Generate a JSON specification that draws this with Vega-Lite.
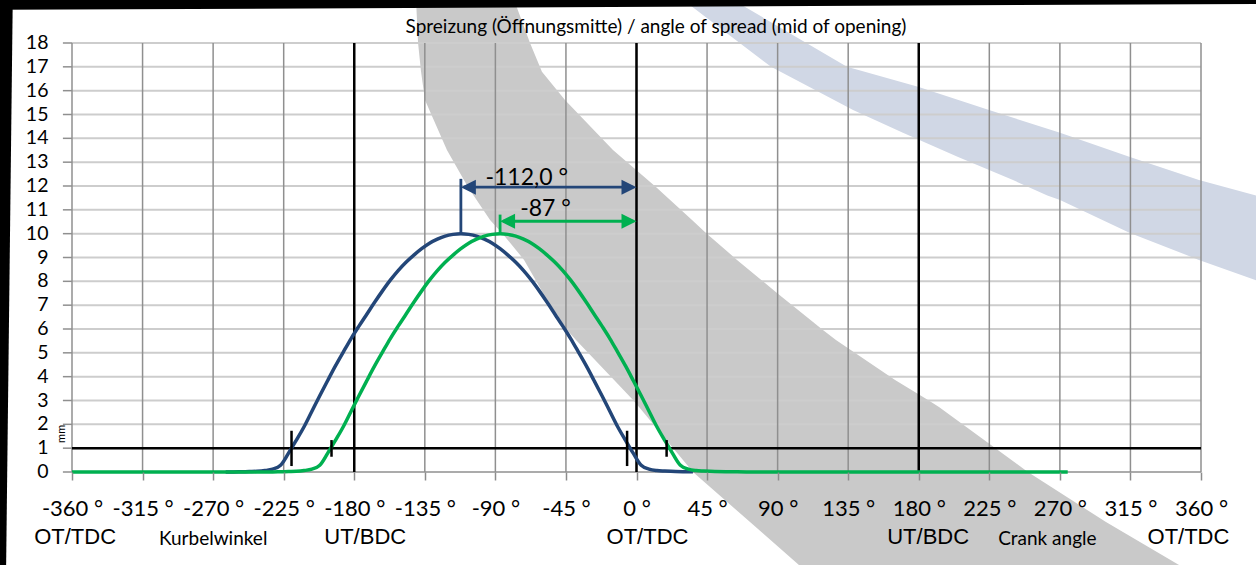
{
  "$schema": "https://vega.github.io/schema/vega-lite/v6.json",
  "width": 1129,
  "height": 429,
  "autosize": {"type": "none"},
  "padding": {"left": 72, "top": 43, "right": 55, "bottom": 93},
  "background": "white",
  "config": {"font": "Lato", "view": {"stroke": null}},
  "datasets": {
    "grayband": [
      {"y": 21, "x": -141, "x2": -80},
      {"y": 19.81, "x": -140.6, "x2": -78.1},
      {"y": 18.0, "x": -139.3, "x2": -67.9},
      {"y": 16.79, "x": -137.4, "x2": -60.3},
      {"y": 15.61, "x": -134.9, "x2": -45.6},
      {"y": 13.51, "x": -120.9, "x2": -15.0},
      {"y": 11.96, "x": -107.5, "x2": 12.4},
      {"y": 10.57, "x": -93.4, "x2": 35.4},
      {"y": 10.03, "x": -85.8, "x2": 44.3},
      {"y": 8.9, "x": -71.7, "x2": 64.1},
      {"y": 7.51, "x": -59.6, "x2": 89.6},
      {"y": 5.96, "x": -44.3, "x2": 118.9},
      {"y": 5.54, "x": -38.6, "x2": 127.2},
      {"y": 3.86, "x": -14.3, "x2": 164.9},
      {"y": 3.02, "x": -2.2, "x2": 185.9},
      {"y": 2.73, "x": 1.6, "x2": 192.9},
      {"y": 0, "x": 36.0, "x2": 249.6},
      {"y": -2.1, "x": 72.4, "x2": 299.4},
      {"y": -3.9, "x": 103.6, "x2": 346},
      {"y": -4.5, "x": 114, "x2": 362}
    ],
    "blueband": [
      {"y": 19.81, "x": 29.7, "x2": 61.5},
      {"y": 17.0, "x": 85.8, "x2": 134.2},
      {"y": 16.16, "x": 110.0, "x2": 179.5},
      {"y": 15.19, "x": 138.1, "x2": 224.8},
      {"y": 14.23, "x": 169.9, "x2": 270.1},
      {"y": 13.22, "x": 205.1, "x2": 314.7},
      {"y": 12.25, "x": 240.1, "x2": 358.7},
      {"y": 11.6, "x": 262, "x2": 395.1},
      {"y": 11.41, "x": 270.1, "x2": 423},
      {"y": 10.03, "x": 314.7, "x2": 423},
      {"y": 8.9, "x": 358.7, "x2": 423},
      {"y": 8.05, "x": 395.1, "x2": 423}
    ],
    "topstrip": [
      {"x": -420, "y": 19.39, "y2": 22},
      {"x": -406, "y": 19.39, "y2": 22},
      {"x": 395, "y": 19.64, "y2": 22},
      {"x": 420, "y": 19.64, "y2": 22}
    ],
    "leftstrip": [
      {"y": 22, "x": -420, "x2": -397.4},
      {"y": -5, "x": -420, "x2": -402.2}
    ],
    "gridx": [
      {"x": -360}, {"x": -315}, {"x": -270}, {"x": -225}, {"x": -180}, {"x": -135},
      {"x": -90}, {"x": -45}, {"x": 0}, {"x": 45}, {"x": 90}, {"x": 135},
      {"x": 180}, {"x": 225}, {"x": 270}, {"x": 315}, {"x": 360}
    ],
    "gridy": [
      {"y": 1}, {"y": 2}, {"y": 3}, {"y": 4}, {"y": 5}, {"y": 6}, {"y": 7}, {"y": 8}, {"y": 9},
      {"y": 10}, {"y": 11}, {"y": 12}, {"y": 13}, {"y": 14}, {"y": 15}, {"y": 16}, {"y": 17}, {"y": 18}
    ],
    "yticks": [
      {"y": 0}, {"y": 1}, {"y": 2}, {"y": 3}, {"y": 4}, {"y": 5}, {"y": 6}, {"y": 7}, {"y": 8}, {"y": 9},
      {"y": 10}, {"y": 11}, {"y": 12}, {"y": 13}, {"y": 14}, {"y": 15}, {"y": 16}, {"y": 17}, {"y": 18}
    ],
    "baseline": [{"y": 0}],
    "blackv": [{"x": -180}, {"x": 0}, {"x": 180}],
    "blackh": [{"y": 1}],
    "curves": [
      {"c": "b", "x": -262, "y": 0}, {"c": "b", "x": -257, "y": 0}, {"c": "b", "x": -252, "y": 0.01},
      {"c": "b", "x": -247, "y": 0.02}, {"c": "b", "x": -242, "y": 0.03}, {"c": "b", "x": -237, "y": 0.06},
      {"c": "b", "x": -232, "y": 0.12}, {"c": "b", "x": -227, "y": 0.28}, {"c": "b", "x": -222, "y": 0.78},
      {"c": "b", "x": -217, "y": 1.33}, {"c": "b", "x": -212, "y": 1.9}, {"c": "b", "x": -207, "y": 2.55},
      {"c": "b", "x": -202, "y": 3.2}, {"c": "b", "x": -197, "y": 3.83}, {"c": "b", "x": -192, "y": 4.45},
      {"c": "b", "x": -187, "y": 5.03}, {"c": "b", "x": -182, "y": 5.6}, {"c": "b", "x": -177, "y": 6.12},
      {"c": "b", "x": -172, "y": 6.62}, {"c": "b", "x": -167, "y": 7.12}, {"c": "b", "x": -162, "y": 7.6},
      {"c": "b", "x": -157, "y": 8.05}, {"c": "b", "x": -152, "y": 8.45}, {"c": "b", "x": -147, "y": 8.8},
      {"c": "b", "x": -142, "y": 9.1}, {"c": "b", "x": -137, "y": 9.37}, {"c": "b", "x": -132, "y": 9.6},
      {"c": "b", "x": -127, "y": 9.77}, {"c": "b", "x": -122, "y": 9.9}, {"c": "b", "x": -117, "y": 9.97},
      {"c": "b", "x": -112, "y": 10}, {"c": "b", "x": -107, "y": 9.97}, {"c": "b", "x": -102, "y": 9.9},
      {"c": "b", "x": -97, "y": 9.77}, {"c": "b", "x": -92, "y": 9.6}, {"c": "b", "x": -87, "y": 9.37},
      {"c": "b", "x": -82, "y": 9.1}, {"c": "b", "x": -77, "y": 8.8}, {"c": "b", "x": -72, "y": 8.45},
      {"c": "b", "x": -67, "y": 8.05}, {"c": "b", "x": -62, "y": 7.6}, {"c": "b", "x": -57, "y": 7.12},
      {"c": "b", "x": -52, "y": 6.62}, {"c": "b", "x": -47, "y": 6.12}, {"c": "b", "x": -42, "y": 5.6},
      {"c": "b", "x": -37, "y": 5.03}, {"c": "b", "x": -32, "y": 4.45}, {"c": "b", "x": -27, "y": 3.83},
      {"c": "b", "x": -22, "y": 3.2}, {"c": "b", "x": -17, "y": 2.55}, {"c": "b", "x": -12, "y": 1.9},
      {"c": "b", "x": -7, "y": 1.33}, {"c": "b", "x": -2, "y": 0.78}, {"c": "b", "x": 3, "y": 0.28},
      {"c": "b", "x": 8, "y": 0.12}, {"c": "b", "x": 13, "y": 0.06}, {"c": "b", "x": 18, "y": 0.04},
      {"c": "b", "x": 25, "y": 0.02}, {"c": "b", "x": 36, "y": 0.01},
      {"c": "g", "x": -360, "y": 0}, {"c": "g", "x": -250, "y": 0}, {"c": "g", "x": -232, "y": 0},
      {"c": "g", "x": -227, "y": 0.01}, {"c": "g", "x": -222, "y": 0.02}, {"c": "g", "x": -217, "y": 0.03},
      {"c": "g", "x": -212, "y": 0.06}, {"c": "g", "x": -207, "y": 0.12}, {"c": "g", "x": -202, "y": 0.28},
      {"c": "g", "x": -197, "y": 0.78}, {"c": "g", "x": -192, "y": 1.33}, {"c": "g", "x": -187, "y": 1.9},
      {"c": "g", "x": -182, "y": 2.55}, {"c": "g", "x": -177, "y": 3.2}, {"c": "g", "x": -172, "y": 3.83},
      {"c": "g", "x": -167, "y": 4.45}, {"c": "g", "x": -162, "y": 5.03}, {"c": "g", "x": -157, "y": 5.6},
      {"c": "g", "x": -152, "y": 6.12}, {"c": "g", "x": -147, "y": 6.62}, {"c": "g", "x": -142, "y": 7.12},
      {"c": "g", "x": -137, "y": 7.6}, {"c": "g", "x": -132, "y": 8.05}, {"c": "g", "x": -127, "y": 8.45},
      {"c": "g", "x": -122, "y": 8.8}, {"c": "g", "x": -117, "y": 9.1}, {"c": "g", "x": -112, "y": 9.37},
      {"c": "g", "x": -107, "y": 9.6}, {"c": "g", "x": -102, "y": 9.77}, {"c": "g", "x": -97, "y": 9.9},
      {"c": "g", "x": -92, "y": 9.97}, {"c": "g", "x": -87, "y": 10}, {"c": "g", "x": -82, "y": 9.97},
      {"c": "g", "x": -77, "y": 9.9}, {"c": "g", "x": -72, "y": 9.77}, {"c": "g", "x": -67, "y": 9.6},
      {"c": "g", "x": -62, "y": 9.37}, {"c": "g", "x": -57, "y": 9.1}, {"c": "g", "x": -52, "y": 8.8},
      {"c": "g", "x": -47, "y": 8.45}, {"c": "g", "x": -42, "y": 8.05}, {"c": "g", "x": -37, "y": 7.6},
      {"c": "g", "x": -32, "y": 7.12}, {"c": "g", "x": -27, "y": 6.62}, {"c": "g", "x": -22, "y": 6.12},
      {"c": "g", "x": -17, "y": 5.6}, {"c": "g", "x": -12, "y": 5.03}, {"c": "g", "x": -7, "y": 4.45},
      {"c": "g", "x": -2, "y": 3.83}, {"c": "g", "x": 3, "y": 3.2}, {"c": "g", "x": 8, "y": 2.55},
      {"c": "g", "x": 13, "y": 1.9}, {"c": "g", "x": 18, "y": 1.33}, {"c": "g", "x": 23, "y": 0.78},
      {"c": "g", "x": 28, "y": 0.28}, {"c": "g", "x": 33, "y": 0.12}, {"c": "g", "x": 38, "y": 0.06},
      {"c": "g", "x": 43, "y": 0.04}, {"c": "g", "x": 50, "y": 0.02}, {"c": "g", "x": 61, "y": 0.01},
      {"c": "g", "x": 70, "y": 0}, {"c": "g", "x": 275, "y": 0}
    ],
    "marks1mm": [
      {"x": -220, "y": 0.25, "y2": 1.73},
      {"x": -6, "y": 0.25, "y2": 1.73},
      {"x": -194.5, "y": 0.64, "y2": 1.34},
      {"x": 19.2, "y": 0.64, "y2": 1.34}
    ],
    "spreadlines": [
      {"c": "b", "x": -112, "x2": -112, "y": 10, "y2": 12.3},
      {"c": "b", "x": -110, "x2": -2, "y": 11.95, "y2": 11.95},
      {"c": "g", "x": -87, "x2": -87, "y": 10, "y2": 10.8},
      {"c": "g", "x": -85, "x2": -2, "y": 10.52, "y2": 10.52}
    ],
    "arrowheads": [
      {"c": "b", "dir": "l", "x": -112, "y": 11.95},
      {"c": "b", "dir": "r", "x": 0, "y": 11.95},
      {"c": "g", "dir": "l", "x": -87, "y": 10.52},
      {"c": "g", "dir": "r", "x": 0, "y": 10.52}
    ],
    "spreadtext": [
      {"x": -70, "y": 12.04, "label": "-112,0 °"},
      {"x": -58, "y": 10.74, "label": "-87 °"}
    ],
    "heading": [
      {"x": 12.4, "y": 18.42, "label": "Spreizung (Öffnungsmitte) / angle of spread (mid of opening)"}
    ],
    "positions": [
      {"x": -358, "y": -3.02, "label": "OT/TDC"},
      {"x": -173, "y": -3.02, "label": "UT/BDC"},
      {"x": 7, "y": -3.02, "label": "OT/TDC"},
      {"x": 186, "y": -3.02, "label": "UT/BDC"},
      {"x": 352, "y": -3.02, "label": "OT/TDC"}
    ],
    "anglenames": [
      {"x": -270, "y": -3.05, "label": "Kurbelwinkel"},
      {"x": 262, "y": -3.05, "label": "Crank angle"}
    ],
    "unit": [{"x": -366.5, "y": 1.6, "label": "mm"}]
  },
  "layer": [
    {
      "data": {"name": "grayband"},
      "mark": {"type": "area", "orient": "horizontal", "color": "#c9c9c9", "opacity": 1},
      "encoding": {
        "y": {"field": "y", "type": "quantitative", "title": null,
          "scale": {"domain": [0, 18], "nice": false, "zero": false}, "axis": null},
        "x": {"field": "x", "type": "quantitative", "title": null,
          "scale": {"domain": [-360, 360], "nice": false, "zero": false},
          "axis": {"values": [-360, -315, -270, -225, -180, -135, -90, -45, 0, 45, 90, 135, 180, 225, 270, 315, 360],
            "labelExpr": "datum.value + ' °'", "title": null, "grid": false, "domain": false, "zindex": 1,
            "tickColor": "#8c8c8c", "tickWidth": 1.5, "tickSize": 8,
            "labelFont": "Lato", "labelFontSize": 22, "labelColor": "black", "labelBaseline": "alphabetic",
            "labelPadding": 35, "labelOverlap": false, "labelFlush": false, "labelBound": false}},
        "x2": {"field": "x2"}
      }
    },
    {
      "data": {"name": "blueband"},
      "mark": {"type": "area", "orient": "horizontal", "color": "#d0d7e5", "opacity": 1},
      "encoding": {
        "y": {"field": "y", "type": "quantitative", "title": null, "axis": null},
        "x": {"field": "x", "type": "quantitative", "title": null},
        "x2": {"field": "x2"}
      }
    },
    {
      "data": {"name": "topstrip"},
      "mark": {"type": "area", "color": "black", "opacity": 1},
      "encoding": {
        "x": {"field": "x", "type": "quantitative", "title": null},
        "y": {"field": "y", "type": "quantitative", "title": null, "axis": null},
        "y2": {"field": "y2"}
      }
    },
    {
      "data": {"name": "leftstrip"},
      "mark": {"type": "area", "orient": "horizontal", "color": "black", "opacity": 1},
      "encoding": {
        "y": {"field": "y", "type": "quantitative", "title": null, "axis": null},
        "x": {"field": "x", "type": "quantitative", "title": null},
        "x2": {"field": "x2"}
      }
    },
    {
      "data": {"name": "gridy"},
      "mark": {"type": "rule", "color": "#cdcdcd", "strokeWidth": 2},
      "encoding": {"y": {"field": "y", "type": "quantitative", "title": null, "axis": null}}
    },
    {
      "data": {"name": "gridx"},
      "mark": {"type": "rule", "color": "#8f8f8f", "strokeWidth": 1.5},
      "encoding": {"x": {"field": "x", "type": "quantitative", "title": null}}
    },
    {
      "data": {"name": "baseline"},
      "mark": {"type": "rule", "color": "#8f8f8f", "strokeWidth": 1.5},
      "encoding": {"y": {"field": "y", "type": "quantitative", "title": null, "axis": null}}
    },
    {
      "data": {"name": "yticks"},
      "mark": {"type": "rule", "color": "#8f8f8f", "strokeWidth": 1.5},
      "encoding": {
        "y": {"field": "y", "type": "quantitative", "title": null, "axis": null},
        "x": {"datum": -365.8},
        "x2": {"datum": -360}
      }
    },
    {
      "data": {"name": "yticks"},
      "mark": {"type": "text", "font": "Lato", "fontSize": 19.5, "color": "black", "align": "right", "baseline": "middle"},
      "encoding": {
        "y": {"field": "y", "type": "quantitative", "title": null, "axis": null},
        "x": {"datum": -375},
        "text": {"field": "y", "type": "quantitative"}
      }
    },
    {
      "data": {"name": "blackv"},
      "mark": {"type": "rule", "color": "black", "strokeWidth": 2.5},
      "encoding": {"x": {"field": "x", "type": "quantitative", "title": null}}
    },
    {
      "data": {"name": "blackh"},
      "mark": {"type": "rule", "color": "black", "strokeWidth": 2.5},
      "encoding": {"y": {"field": "y", "type": "quantitative", "title": null, "axis": null}}
    },
    {
      "data": {"name": "curves"},
      "mark": {"type": "line", "strokeWidth": 3.5, "interpolate": "monotone"},
      "encoding": {
        "x": {"field": "x", "type": "quantitative", "title": null},
        "y": {"field": "y", "type": "quantitative", "title": null, "axis": null},
        "color": {"field": "c", "type": "nominal", "legend": null,
          "scale": {"domain": ["b", "g"], "range": ["#234678", "#00b050"]}},
        "order": {"field": "x", "type": "quantitative"}
      }
    },
    {
      "data": {"name": "marks1mm"},
      "mark": {"type": "rule", "color": "black", "strokeWidth": 2.5},
      "encoding": {
        "x": {"field": "x", "type": "quantitative", "title": null},
        "y": {"field": "y", "type": "quantitative", "title": null, "axis": null},
        "y2": {"field": "y2"}
      }
    },
    {
      "data": {"name": "spreadlines"},
      "mark": {"type": "rule", "strokeWidth": 2.8},
      "encoding": {
        "x": {"field": "x", "type": "quantitative", "title": null},
        "x2": {"field": "x2"},
        "y": {"field": "y", "type": "quantitative", "title": null, "axis": null},
        "y2": {"field": "y2"},
        "color": {"field": "c", "type": "nominal", "legend": null}
      }
    },
    {
      "data": {"name": "arrowheads"},
      "mark": {"type": "point", "filled": true, "opacity": 1, "strokeWidth": 0, "size": 225},
      "encoding": {
        "x": {"field": "x", "type": "quantitative", "title": null},
        "y": {"field": "y", "type": "quantitative", "title": null, "axis": null},
        "color": {"field": "c", "type": "nominal", "legend": null},
        "shape": {"field": "dir", "type": "nominal", "legend": null,
          "scale": {"domain": ["l", "r"], "range": ["M0,0L2,-1L2,1Z", "M0,0L-2,-1L-2,1Z"]}}
      }
    },
    {
      "data": {"name": "spreadtext"},
      "mark": {"type": "text", "font": "Lato", "fontSize": 23, "color": "black", "align": "center", "baseline": "alphabetic"},
      "encoding": {
        "x": {"field": "x", "type": "quantitative", "title": null},
        "y": {"field": "y", "type": "quantitative", "title": null, "axis": null},
        "text": {"field": "label"}
      }
    },
    {
      "data": {"name": "heading"},
      "mark": {"type": "text", "font": "Lato", "fontSize": 19, "color": "black", "align": "center", "baseline": "alphabetic"},
      "encoding": {
        "x": {"field": "x", "type": "quantitative", "title": null},
        "y": {"field": "y", "type": "quantitative", "title": null, "axis": null},
        "text": {"field": "label"}
      }
    },
    {
      "data": {"name": "positions"},
      "mark": {"type": "text", "font": "Liberation Sans", "fontSize": 22, "color": "black", "align": "center", "baseline": "alphabetic"},
      "encoding": {
        "x": {"field": "x", "type": "quantitative", "title": null},
        "y": {"field": "y", "type": "quantitative", "title": null, "axis": null},
        "text": {"field": "label"}
      }
    },
    {
      "data": {"name": "anglenames"},
      "mark": {"type": "text", "font": "Lato", "fontSize": 19, "color": "black", "align": "center", "baseline": "alphabetic"},
      "encoding": {
        "x": {"field": "x", "type": "quantitative", "title": null},
        "y": {"field": "y", "type": "quantitative", "title": null, "axis": null},
        "text": {"field": "label"}
      }
    },
    {
      "data": {"name": "unit"},
      "mark": {"type": "text", "font": "Lato", "fontSize": 11, "color": "black", "align": "center", "baseline": "middle", "angle": 270},
      "encoding": {
        "x": {"field": "x", "type": "quantitative", "title": null},
        "y": {"field": "y", "type": "quantitative", "title": null, "axis": null},
        "text": {"field": "label"}
      }
    }
  ]
}
